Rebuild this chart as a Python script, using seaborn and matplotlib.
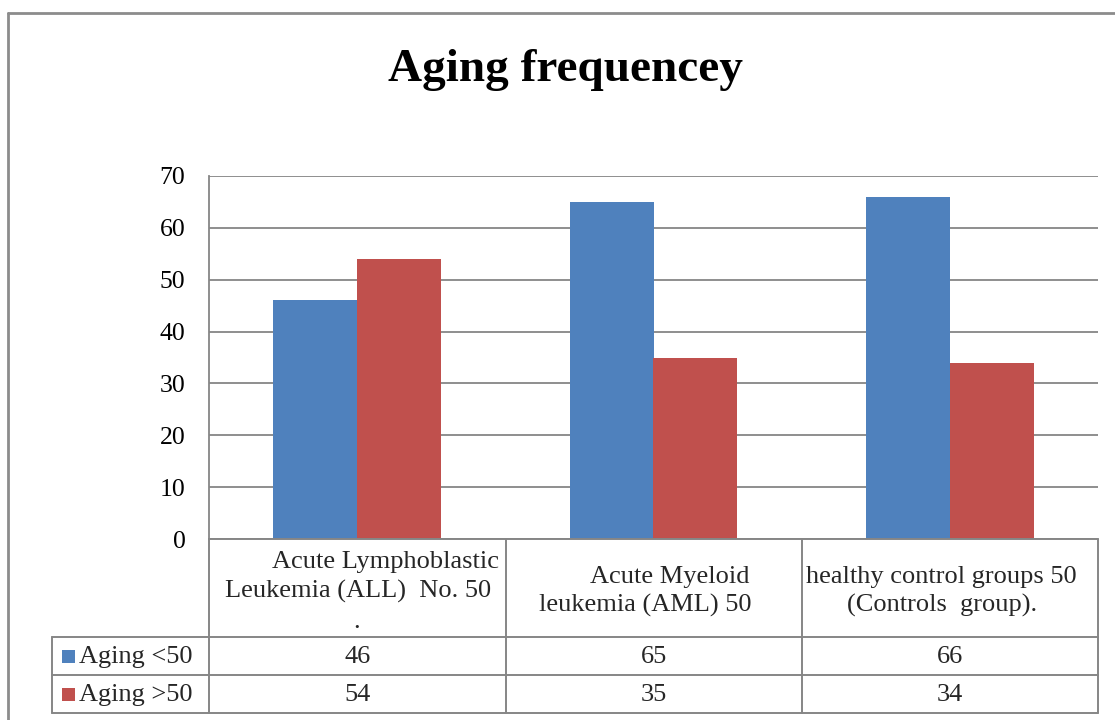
import matplotlib
matplotlib.use("Agg")
import matplotlib.pyplot as plt
from matplotlib.lines import Line2D
from matplotlib.patches import Rectangle
import seaborn as sns
import pandas as pd

# ---- data ----
groups = ["ALL", "AML", "Controls"]
series = ["Aging <50", "Aging >50"]
under50 = [46, 65, 66]
over50 = [54, 35, 34]
header_lines = [
    ["Acute Lymphoblastic", "Leukemia (ALL)  No. 50", "."],
    ["Acute Myeloid", "leukemia (AML) 50"],
    ["healthy control groups 50", "(Controls  group)."],
]
title = "Aging frequencey"
yticks = [0, 10, 20, 30, 40, 50, 60, 70]

colors = ["#4F81BD", "#C0504D"]
gray = "#868686"

df = pd.DataFrame({
    "Group": groups * 2,
    "Series": [series[0]] * 3 + [series[1]] * 3,
    "Value": under50 + over50,
})

sns.set_theme(style="white")
plt.rcParams["font.family"] = ["Liberation Serif", "DejaVu Serif"]

W, H = 1115, 720
fig = plt.figure(figsize=(W / 100, H / 100), dpi=100)
fig.patch.set_facecolor("white")

def fx(px):
    return px / W

def fy(py):
    return 1 - py / H

# plot area
L, R, T, B = 209, 1098, 176, 539
ax = fig.add_axes([fx(L), fy(B), fx(R) - fx(L), fy(T) - fy(B)])
sns.barplot(data=df, x="Group", y="Value", hue="Series", order=groups,
            hue_order=series, palette=colors, saturation=1, width=0.565,
            linewidth=0, legend=False, ax=ax)
ax.set_xlim(-0.5, 2.5)
ax.set_ylim(0, 70)
ax.set_yticks(yticks)
ax.set_yticklabels([str(v) for v in yticks], fontsize=18.5)
ax.set_xticks([])
ax.set_xlabel("")
ax.set_ylabel("")
ax.tick_params(axis="y", length=0, pad=17, colors="black")
ax.yaxis.grid(True, color=gray, linewidth=1.3)
ax.set_axisbelow(True)
for s in ["top", "right", "bottom"]:
    ax.spines[s].set_visible(False)
ax.spines["left"].set_color(gray)
ax.spines["left"].set_linewidth(1.3)

# title
fig.text(fx(566), fy(81), title, ha="center", va="baseline",
         fontsize=34, fontweight="bold", color="black")

# outer chart border
fig.add_artist(Line2D([fx(8), fx(8)], [fy(13), fy(720)], color="#8c8c8c", lw=2))
fig.add_artist(Line2D([fx(8), fx(1115)], [fy(13), fy(13)], color="#8c8c8c", lw=2))

# data table
col_edges = [209, 506, 802, 1098]
row_y = [539, 637, 675, 713]
lw = 1.4
for x in col_edges:
    fig.add_artist(Line2D([fx(x), fx(x)], [fy(539), fy(713)], color=gray, lw=lw))
fig.add_artist(Line2D([fx(209), fx(1098)], [fy(539), fy(539)], color=gray, lw=lw))
for y in row_y[1:]:
    fig.add_artist(Line2D([fx(52), fx(1098)], [fy(y), fy(y)], color=gray, lw=lw))
fig.add_artist(Line2D([fx(52), fx(52)], [fy(637), fy(713)], color=gray, lw=lw))

# header text
header_pos = [
    [(386, 568), (358, 598), (357, 628)],
    [(670, 583), (645, 612)],
    [(941, 583), (942, 612)],
]
for lines, pos in zip(header_lines, header_pos):
    for txt, (x, y) in zip(lines, pos):
        fig.text(fx(x), fy(y), txt, ha="center", va="baseline", fontsize=19)

# rows: legend key + values
centers = [(a + b) / 2 for a, b in zip(col_edges[:-1], col_edges[1:])]
for i, (name, vals) in enumerate(zip(series, [under50, over50])):
    ymid = (row_y[i + 1] + row_y[i + 2]) / 2
    fig.add_artist(Rectangle((fx(62), fy(ymid + 7)), fx(13), 13 / H,
                             facecolor=colors[i], edgecolor="none",
                             transform=fig.transFigure))
    fig.text(fx(79), fy(ymid + 7), name, ha="left", va="baseline", fontsize=19)
    for c, v in zip(centers, vals):
        fig.text(fx(c), fy(ymid + 7), str(v), ha="center", va="baseline", fontsize=19)

fig.savefig("out.png", dpi=100, facecolor="white")
